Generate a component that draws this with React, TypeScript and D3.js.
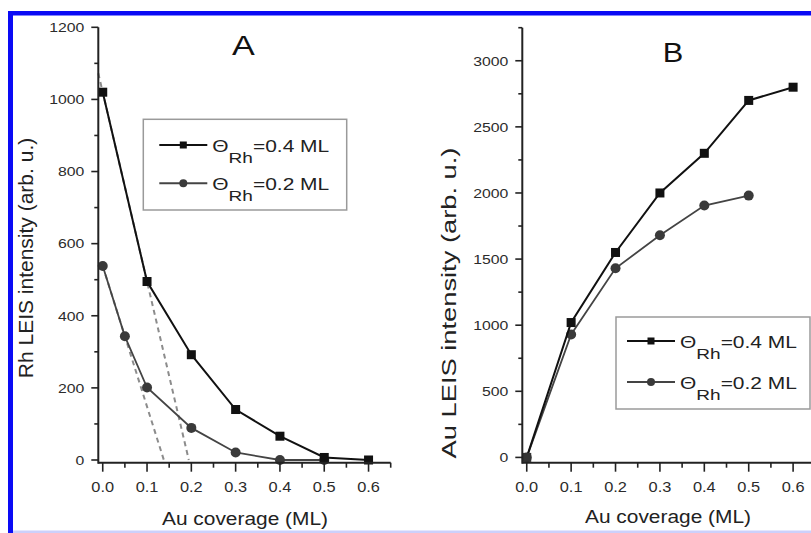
import * as d3 from 'd3';

// Au coverage (ML) on the x axis
const coverage = [0, 0.1, 0.2, 0.3, 0.4, 0.5, 0.6];
const coverageLowRh = [0, 0.05, 0.1, 0.2, 0.3, 0.4, 0.5];
const coverageLowAu = [0, 0.1, 0.2, 0.3, 0.4, 0.5];

// panel A: Rh LEIS intensity
const rhHigh = [1020, 495, 292, 140, 66, 7, 0];
const rhLow = [538, 343, 201, 89, 21, 0, 0];

// panel B: Au LEIS intensity
const auHigh = [0, 1020, 1550, 2000, 2300, 2700, 2800];
const auLow = [0, 930, 1430, 1680, 1905, 1980];

const xTicks = [0, 0.1, 0.2, 0.3, 0.4, 0.5, 0.6];
const xMinor = [0.05, 0.15, 0.25, 0.35, 0.45, 0.55, 0.65];
const rhTicks = [0, 200, 400, 600, 800, 1000, 1200];
const rhMinor = [100, 300, 500, 700, 900, 1100];
const auTicks = [0, 500, 1000, 1500, 2000, 2500, 3000];
const auMinor = [250, 750, 1250, 1750, 2250, 2750, 3250];

const legendLabels = ['=0.4 ML', '=0.2 ML'];

const FONT = '"Liberation Sans", Arial, sans-serif';
const SX = 1.2; // the figure's lettering is a bit wide

const zip = (xs: number[], ys: number[]) => xs.map((x, i) => [x, ys[i]] as [number, number]);

// straight extension of the first segment of a series down to zero
const extrapolate = (pts: [number, number][], fromX: number) => {
  const [p0, p1] = pts;
  const slope = (p1[1] - p0[1]) / (p1[0] - p0[0]);
  const x0 = p0[0] - p0[1] / slope;
  return [[fromX, p0[1] + slope * (fromX - p0[0])], [x0, 0]] as [number, number][];
};

const Txt = ({ x, y, size, sx = SX, anchor = 'middle', rotate = false, fill = '#2b2b2b', children }: any) => (
  <text
    transform={`translate(${x},${y})${rotate ? ' rotate(-90)' : ''} scale(${sx},1)`}
    fontSize={size}
    fontFamily={FONT}
    textAnchor={anchor}
    fill={fill}
  >
    {children}
  </text>
);

const Square = ({ cx, cy, s, fill }: any) => (
  <rect x={cx - s / 2} y={cy - s / 2} width={s} height={s} fill={fill} />
);

const Panel = ({ spec }: any) => {
  const x = d3.scaleLinear().domain([-0.01, 0.65]).range(spec.xRange);
  const y = d3.scaleLinear().domain(spec.yDomain).range([462.7, spec.yTop]);
  const line = d3.line<[number, number]>().x((d) => x(d[0])).y((d) => y(d[1]));

  const high = zip(coverage, spec.high);
  const low = zip(spec.lowX, spec.low);
  const x0 = x.range()[0];
  const yb = y.range()[0];
  const lg = spec.legend;

  return (
    <g>
      {/* dashed extrapolations */}
      {spec.dashed.map((d: [number, number][], i: number) => (
        <path key={i} d={line(d) || ''} fill="none" stroke="#8c8c8c" strokeWidth={2} strokeDasharray="5,4" />
      ))}

      <path d={line(low) || ''} fill="none" stroke="#444" strokeWidth={1.8} />
      {low.map((d, i) => (
        <circle key={i} cx={x(d[0])} cy={y(d[1])} r={5} fill="#3a3a3a" />
      ))}
      <path d={line(high) || ''} fill="none" stroke="#111" strokeWidth={2} />
      {high.map((d, i) => (
        <Square key={i} cx={x(d[0])} cy={y(d[1])} s={9} fill={d[1] === 0 && i === 0 ? '#333' : '#111'} />
      ))}

      {/* axes */}
      <line x1={x0} x2={x.range()[1]} y1={yb} y2={yb} stroke="#222" strokeWidth={2} />
      <line x1={x0} x2={x0} y1={yb + 1} y2={y.range()[1]} stroke="#222" strokeWidth={2} />
      {xTicks.map((t) => (
        <g key={t}>
          <line x1={x(t)} x2={x(t)} y1={yb} y2={yb + 9} stroke="#222" strokeWidth={1.6} />
          <Txt x={x(t)} y={491.7} size={14} sx={1.17}>{d3.format('.1f')(t)}</Txt>
        </g>
      ))}
      {xMinor.map((t) => (
        <line key={t} x1={x(t)} x2={x(t)} y1={yb} y2={yb + 5} stroke="#222" strokeWidth={1.6} />
      ))}
      {spec.yTicks.map((t: number) => (
        <g key={t}>
          <line x1={x0 - 7} x2={x0} y1={y(t)} y2={y(t)} stroke="#222" strokeWidth={1.6} />
          <Txt x={x0 - 14} y={y(t) + 4.8} size={13.5} sx={1.17} anchor="end">{t}</Txt>
        </g>
      ))}
      {spec.yMinor.map((t: number) => (
        <line key={t} x1={x0 - 4} x2={x0} y1={y(t)} y2={y(t)} stroke="#222" strokeWidth={1.6} />
      ))}

      {/* titles */}
      <Txt x={spec.xTitle[0]} y={spec.xTitle[1]} size={18.5} sx={1.13} fill="#222">Au coverage (ML)</Txt>
      <Txt x={spec.yTitle[0]} y={spec.yTitle[1]} size={21} sx={spec.yTitle[2]} rotate fill="#222">{spec.yLabel}</Txt>
      <Txt x={spec.letter[0]} y={spec.letter[1]} size={28} sx={spec.letter[2]} fill="#111">{spec.name}</Txt>

      {/* legend */}
      <rect x={lg.x} y={lg.y} width={lg.w} height={lg.h} fill="#fff" stroke="#9a9a9a" strokeWidth={1.5} />
      {lg.rows.map((ry: number, i: number) => (
        <g key={i}>
          <line x1={lg.x + lg.dx} x2={lg.x + lg.dx + 48} y1={ry} y2={ry} stroke={i === 0 ? '#111' : '#444'} strokeWidth={2} />
          {i === 0 ? (
            <Square cx={lg.x + lg.dx + 24} cy={ry} s={7} fill="#111" />
          ) : (
            <circle cx={lg.x + lg.dx + 24} cy={ry} r={4} fill="#3a3a3a" />
          )}
          <text
            transform={`translate(${lg.x + lg.dx + 53},${ry + 6.7}) scale(1.27,1)`}
            fontFamily={FONT}
            fontSize={16.5}
            fill="#222"
          >
            Θ<tspan fontSize={15} dy={11}>Rh</tspan>
            <tspan dy={-11}>{legendLabels[i]}</tspan>
          </text>
        </g>
      ))}
    </g>
  );
};

const rhHighPts = zip(coverage, rhHigh);
const rhLowPts = zip(coverageLowRh, rhLow);

const panels = [
  {
    name: 'A',
    xRange: [98.3, 390.7],
    yDomain: [-7.5, 1200],
    yTop: 27.3,
    yTicks: rhTicks,
    yMinor: rhMinor,
    high: rhHigh,
    lowX: coverageLowRh,
    low: rhLow,
    dashed: [extrapolate(rhHighPts, -0.01), extrapolate(rhLowPts, 0)],
    yLabel: 'Rh LEIS intensity (arb. u.)',
    xTitle: [245, 525],
    yTitle: [33, 258, 1.0],
    letter: [243.5, 55, 1.22],
    legend: { x: 143.3, y: 119.3, w: 203.4, h: 90.7, dx: 16, rows: [145, 183.3] },
  },
  {
    name: 'B',
    xRange: [522.3, 815.3],
    yDomain: [-40, 3250],
    yTop: 27.7,
    yTicks: auTicks,
    yMinor: auMinor,
    high: auHigh,
    lowX: coverageLowAu,
    low: auLow,
    dashed: [],
    yLabel: 'Au LEIS intensity (arb. u.)',
    xTitle: [668, 523],
    yTitle: [456, 303, 1.3],
    letter: [673, 62, 1.1],
    legend: { x: 616, y: 317, w: 194, h: 92, dx: 11, rows: [341, 382] },
  },
];

export default function App() {
  return (
    <svg
      width={811}
      height={533}
      style={{ position: 'absolute', left: 0, top: 0, display: 'block' }}
    >
      <rect width={811} height={533} fill="#fff" />
      {/* blue frame of the figure */}
      <rect x={8} y={11} width={803} height={4.5} fill="#0a0af5" />
      <rect x={8} y={11} width={5} height={522} fill="#0a0af5" />
      <rect x={13} y={530.5} width={798} height={2.5} fill="#ccd0fb" />
      {panels.map((p) => (
        <Panel key={p.name} spec={p} />
      ))}
    </svg>
  );
}
